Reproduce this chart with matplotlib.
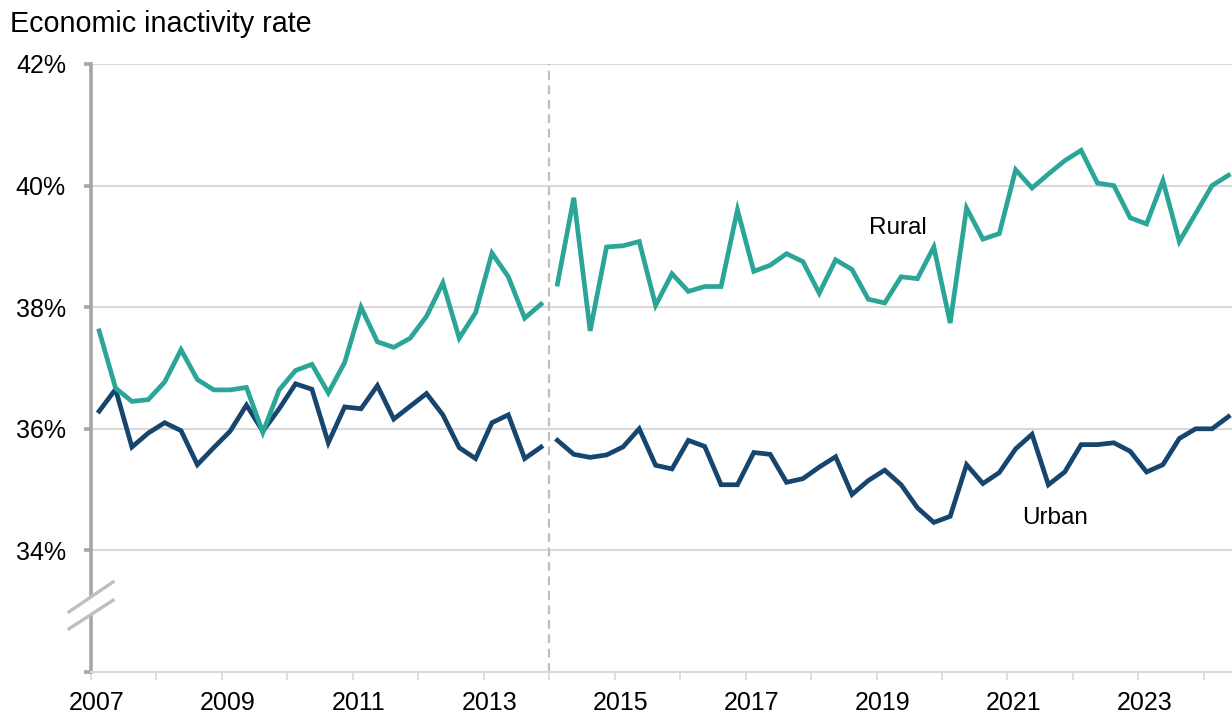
import numpy as np
import pandas as pd
import matplotlib
matplotlib.use("Agg")
import matplotlib.pyplot as plt
import matplotlib.transforms as mtransforms

plt.rcParams['font.family'] = ['Liberation Sans', 'DejaVu Sans']

# Quarterly economic inactivity rates (%), series break at 2014 Q1
quarters_pre = pd.period_range('2007Q1', '2013Q4', freq='Q')
quarters_post = pd.period_range('2014Q1', '2024Q2', freq='Q')

rural_pre = [37.61, 36.67, 36.45, 36.48, 36.77, 37.30, 36.81, 36.64,
             36.64, 36.68, 35.94, 36.64, 36.96, 37.06, 36.59, 37.09,
             38.00, 37.43, 37.34, 37.49, 37.85, 38.40, 37.49, 37.91,
             38.89, 38.50, 37.82, 38.05]
urban_pre = [36.29, 36.65, 35.70, 35.93, 36.10, 35.97, 35.41, 35.69,
             35.96, 36.39, 35.96, 36.33, 36.74, 36.65, 35.77, 36.36,
             36.33, 36.71, 36.16, 36.37, 36.58, 36.23, 35.69, 35.51,
             36.10, 36.23, 35.51, 35.70]
rural_post = [38.38, 39.80, 37.61, 38.99, 39.01, 39.08, 38.03, 38.55,
              38.26, 38.34, 38.34, 39.60, 38.59, 38.69, 38.88, 38.75,
              38.23, 38.78, 38.62, 38.13, 38.07, 38.50, 38.47, 38.99,
              37.74, 39.63, 39.12, 39.21, 40.26, 39.96, 40.19, 40.41,
              40.58, 40.04, 40.00, 39.47, 39.37, 40.08, 39.08, 39.54,
              40.00, 40.17]
urban_post = [35.81, 35.58, 35.53, 35.57, 35.70, 36.00, 35.40, 35.34,
              35.81, 35.71, 35.08, 35.08, 35.61, 35.58, 35.12, 35.18,
              35.37, 35.54, 34.92, 35.15, 35.32, 35.08, 34.70, 34.46,
              34.56, 35.41, 35.10, 35.28, 35.67, 35.91, 35.08, 35.29,
              35.74, 35.74, 35.77, 35.63, 35.29, 35.41, 35.84, 36.00,
              36.00, 36.20]

year_ticks = list(range(2007, 2025))
year_labels = [str(y) if y % 2 == 1 else '' for y in year_ticks]


def to_decimal(periods):
    # place each quarter at its midpoint
    return np.array([p.year + (p.quarter - 0.5) / 4 for p in periods])


x_pre = to_decimal(quarters_pre)
x_post = to_decimal(quarters_post)

teal = '#2BA597'
navy = '#16456E'
grid_grey = '#D9D9D9'
axis_grey = '#A6A6A6'

fig = plt.figure(figsize=(12.32, 7.17), dpi=100)
ax = fig.add_axes([91 / 1232, 1 - 672 / 717, 1 - 91 / 1232, (672 - 64) / 717])

ax.plot(x_pre, urban_pre, color=navy, lw=3.4, solid_joinstyle='miter', zorder=3)
ax.plot(x_post, urban_post, color=navy, lw=3.4, solid_joinstyle='miter', zorder=3)
ax.plot(x_pre, rural_pre, color=teal, lw=3.4, solid_joinstyle='miter', zorder=4)
ax.plot(x_post, rural_post, color=teal, lw=3.4, solid_joinstyle='miter', zorder=4)

# series break marker
ax.axvline(2014, color='#BFBFBF', lw=1.6, ls=(0, (4, 2.5)), zorder=2)

ax.set_xlim(2007, 2024.43)
ax.set_ylim(32, 42)

ax.set_yticks([32, 34, 36, 38, 40, 42])
ax.set_yticklabels(['', '34%', '36%', '38%', '40%', '42%'])
ax.set_xticks(year_ticks)
ax.set_xticklabels(year_labels)

ax.grid(axis='y', color=grid_grey, lw=1.5, zorder=1)
ax.set_axisbelow(True)

for side in ['top', 'right']:
    ax.spines[side].set_visible(False)
ax.spines['left'].set_color(axis_grey)
ax.spines['left'].set_linewidth(2.6)
ax.spines['bottom'].set_color(grid_grey)
ax.spines['bottom'].set_linewidth(1.5)

ax.tick_params(axis='y', length=5, width=2.6, color=axis_grey, pad=13,
               labelsize=18, labelcolor='black')
ax.tick_params(axis='x', length=6, width=1.2, color=grid_grey, pad=8,
               labelsize=18, labelcolor='black')

# year labels sit slightly right of their ticks
shift = mtransforms.ScaledTranslation(6 / 100, 0, fig.dpi_scale_trans)
for lab in ax.get_xticklabels():
    lab.set_transform(lab.get_transform() + shift)

# axis break symbol on the y axis
trans = mtransforms.blended_transform_factory(ax.transAxes, ax.transData)
dx = 22 / 1141
brk = plt.Polygon([[-dx, 32.99], [dx, 33.48], [dx, 33.18], [-dx, 32.71]],
                  closed=True, facecolor='white', edgecolor='none',
                  transform=trans, clip_on=False, zorder=5)
ax.add_patch(brk)
ax.plot([-dx, dx], [32.99, 33.48], color='#BFBFBF', lw=2.4, transform=trans,
        clip_on=False, zorder=6)
ax.plot([-dx, dx], [32.71, 33.18], color='#BFBFBF', lw=2.4, transform=trans,
        clip_on=False, zorder=6)

ax.text(2019.32, 39.31, 'Rural', fontsize=17.5, ha='center', va='center')
ax.text(2021.73, 34.53, 'Urban', fontsize=17.5, ha='center', va='center')

fig.text(10 / 1232, 1 - 24 / 717, 'Economic inactivity rate', fontsize=20.7,
         ha='left', va='center')

fig.savefig('out.png', dpi=100)
